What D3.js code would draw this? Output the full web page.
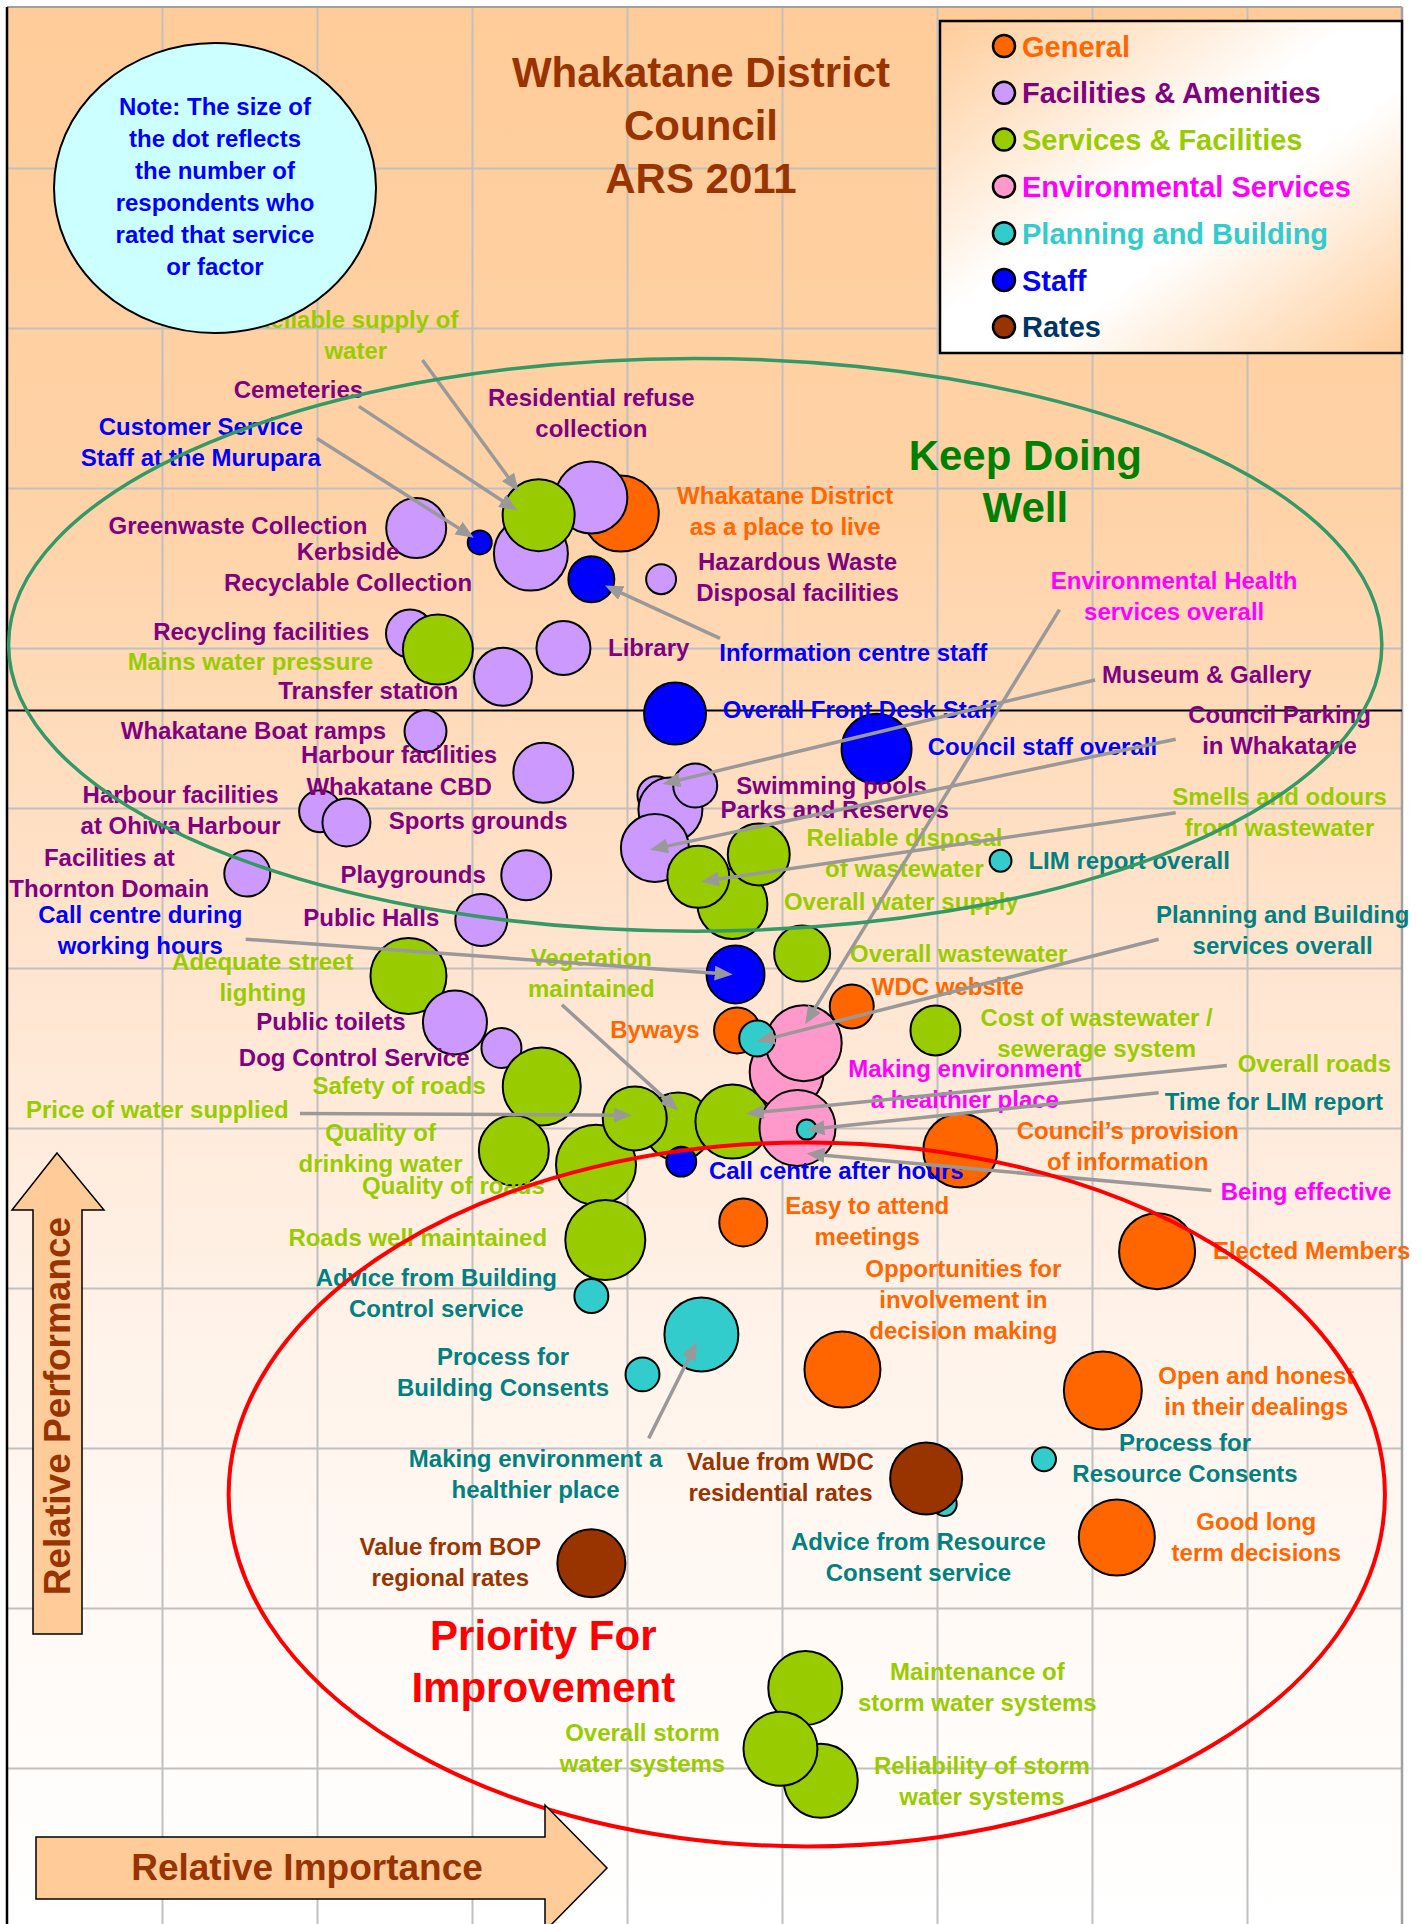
<!DOCTYPE html>
<html>
<head>
<meta charset="utf-8">
<script src="https://cdn.jsdelivr.net/npm/d3@7"></script>
<style>
  html, body { margin: 0; padding: 0; background: #fff; }
  svg { display: block; font-family: Arial, "Liberation Sans", sans-serif; font-weight: bold; }
</style>
</head>
<body>
<div id="chart"></div>
<script>
// ---- data -------------------------------------------------------------
const categories = ['General', 'Facilities & Amenities', 'Services & Facilities',
  'Environmental Services', 'Planning and Building', 'Staff', 'Rates'];

// services in drawing order (later ones sit on top)
const serviceNames = [
  'Greenwaste Collection', 'Customer Service Staff at the Murupara', 'Cemeteries',
  'Whakatane District as a place to live', 'Residential refuse collection',
  'Kerbside Recyclable Collection', 'Reliable supply of water', 'Information centre staff',
  'Hazardous Waste Disposal facilities', 'Recycling facilities', 'Mains water pressure',
  'Library', 'Transfer station', 'Overall Front Desk Staff', 'Council staff overall',
  'Whakatane Boat ramps', 'Harbour facilities', 'Harbour facilities at Ohiwa Harbour',
  'Sports grounds', 'Museum & Gallery', 'Parks and Reserves', 'Swimming pools',
  'Council Parking in Whakatane', 'Overall water supply', 'Reliable disposal of wastewater',
  'Smells and odours from wastewater', 'Facilities at Thornton Domain', 'Playgrounds',
  'Public Halls', 'Overall wastewater', 'Call centre during working hours',
  'LIM report overall', 'Adequate street lighting', 'Public toilets', 'Dog Control Service',
  'Safety of roads', 'Quality of drinking water', 'Quality of roads', 'Roads well maintained',
  'Vegetation maintained', 'Price of water supplied', 'Overall roads', 'Call centre after hours',
  'Byways', 'Making environment a healthier place', 'Environmental Health services overall',
  'Being effective', 'Planning and Building services overall', 'Time for LIM report',
  'WDC website', 'Cost of wastewater / sewerage system', 'Council’s provision of information',
  'Easy to attend meetings', 'Elected Members', 'Advice from Building Control service',
  'Making environment a healthier place (P&B)', 'Process for Building Consents',
  'Opportunities for involvement in decision making', 'Open and honest in their dealings',
  'Process for Resource Consents', 'Advice from Resource Consent service',
  'Value from WDC residential rates', 'Good long term decisions',
  'Value from BOP regional rates', 'Maintenance of storm water systems',
  'Reliability of storm water systems', 'Overall storm water systems'
];
// index into categories
const serviceGroup = [1, 5, 1, 0, 1, 1, 2, 5, 1, 1, 2, 1, 1, 5, 5, 1, 1, 1, 1, 1, 1, 1, 1, 2, 2, 2,
  1, 1, 1, 2, 5, 4, 2, 1, 1, 2, 2, 2, 2, 2, 2, 2, 5, 0, 3, 3, 3, 4, 4, 0, 2, 0, 0, 0, 4, 4, 4, 0, 0,
  4, 4, 6, 0, 6, 2, 2, 2];
const importance = [2.64, 3.05, 3.35, 3.96, 3.77, 3.38, 3.43, 3.77, 4.22, 2.60, 2.78, 3.59, 3.20,
  4.31, 5.61, 2.70, 3.46, 2.02, 2.19, 4.19, 4.28, 4.44, 4.18, 4.68, 4.85, 4.46, 1.55, 3.35, 3.06,
  5.13, 4.70, 6.41, 2.59, 2.89, 3.19, 3.45, 3.27, 3.80, 3.86, 4.33, 4.05, 4.68, 4.35, 4.71, 5.03,
  5.14, 5.10, 4.84, 5.16, 5.45, 5.99, 6.15, 4.75, 7.42, 3.77, 4.48, 4.10, 5.39, 7.07, 6.69, 6.05,
  5.93, 7.16, 3.77, 5.15, 5.25, 4.99];
const performance = [8.75, 8.66, 8.88, 8.84, 8.94, 8.59, 8.83, 8.43, 8.43, 8.09, 7.99, 8.00, 7.82,
  7.59, 7.37, 7.48, 7.22, 6.98, 6.91, 7.08, 6.99, 7.14, 6.75, 6.40, 6.71, 6.57, 6.59, 6.58, 6.30,
  6.09, 5.96, 6.67, 5.95, 5.66, 5.50, 5.26, 4.86, 4.77, 4.30, 5.01, 5.06, 5.04, 4.79, 5.61, 5.35,
  5.53, 5.00, 5.56, 4.99, 5.76, 5.61, 4.86, 4.41, 4.23, 3.95, 3.71, 3.46, 3.49, 3.36, 2.93, 2.65,
  2.81, 2.44, 2.28, 1.50, 0.92, 1.12];
const respondents = [225, 36, 100, 361, 324, 342, 324, 132, 56, 144, 306, 182, 210, 240, 306, 110,
  225, 110, 144, 90, 256, 121, 289, 306, 240, 240, 132, 156, 169, 196, 210, 30, 361, 256, 100, 380,
  306, 400, 400, 289, 256, 342, 56, 132, 342, 361, 361, 81, 25, 121, 156, 342, 144, 361, 72, 342,
  72, 361, 380, 36, 36, 324, 361, 289, 342, 342, 342];

const meanPerformance = 7.61;
const xTicks = d3.range(1, 9);
const yTicks = d3.range(1, 12);

// label layout: [text lines, category, importance, performance, anchor]
const labelSpecs = [
  ['Reliable supply of|water', 2, 2.25, 10.00], ['Cemeteries', 1, 1.88, 9.56],
  ['Customer Service|Staff at the Murupara', 5, 1.25, 9.33],
  ['Residential refuse|collection', 1, 3.77, 9.51],
  ['Whakatane District|as a place to live', 0, 5.02, 8.90],
  ['Hazardous Waste|Disposal facilities', 1, 5.10, 8.49],
  ['Greenwaste Collection', 1, 1.49, 8.71], ['Kerbside|Recyclable Collection', 1, 2.20, 8.55],
  ['Recycling facilities', 1, 1.64, 8.05], ['Mains water pressure', 2, 1.57, 7.86],
  ['Transfer station', 1, 2.33, 7.68], ['Library', 1, 4.14, 7.95],
  ['Information centre staff', 5, 5.46, 7.92],
  ['Environmental Health|services overall', 3, 7.53, 8.37],
  ['Museum & Gallery', 1, 7.74, 7.78], ['Overall Front Desk Staff', 5, 5.50, 7.56],
  ['Council Parking|in Whakatane', 1, 8.21, 7.53], ['Council staff overall', 5, 6.68, 7.33],
  ['Whakatane Boat ramps', 1, 1.59, 7.43], ['Harbour facilities', 1, 2.53, 7.28],
  ['Whakatane CBD', 1, 2.53, 7.08], ['Harbour facilities|at Ohiwa Harbour', 1, 1.12, 7.03],
  ['Sports grounds', 1, 3.04, 6.87], ['Swimming pools', 1, 5.32, 7.09],
  ['Parks and Reserves', 1, 5.34, 6.94], ['Smells and odours|from wastewater', 2, 8.21, 7.02],
  ['Reliable disposal|of wastewater', 2, 5.79, 6.76], ['LIM report overall', 4, 6.59, 6.62, 'start'],
  ['Facilities at|Thornton Domain', 1, 0.66, 6.64], ['Playgrounds', 1, 2.62, 6.53],
  ['Call centre during|working hours', 5, 0.86, 6.28], ['Public Halls', 1, 2.35, 6.26],
  ['Overall water supply', 2, 5.77, 6.36],
  ['Planning and Building|services overall', 4, 8.23, 6.28],
  ['Overall wastewater', 2, 6.14, 6.04], ['Adequate street|lighting', 2, 1.65, 5.99],
  ['Vegetation|maintained', 2, 3.77, 6.01], ['WDC website', 0, 6.07, 5.83],
  ['Public toilets', 1, 2.09, 5.61], ['Byways', 0, 4.18, 5.56],
  ['Cost of wastewater /|sewerage system', 2, 7.03, 5.64],
  ['Dog Control Service', 1, 2.24, 5.39], ['Making environment|a healthier place', 3, 6.18, 5.32],
  ['Overall roads', 2, 7.94, 5.35, 'start'], ['Safety of roads', 2, 2.53, 5.21],
  ['Price of water supplied', 2, 0.97, 5.06], ['Time for LIM report', 4, 7.47, 5.11, 'start'],
  ['Council’s provision|of information', 0, 7.23, 4.93],
  ['Quality of|drinking water', 2, 2.41, 4.92], ['Call centre after hours', 5, 5.35, 4.68],
  ['Quality of roads', 2, 2.88, 4.59], ['Being effective', 3, 7.83, 4.55, 'start'],
  ['Easy to attend|meetings', 0, 5.55, 4.46], ['Roads well maintained', 2, 2.65, 4.26],
  ['Elected Members', 0, 7.78, 4.18, 'start'],
  ['Opportunities for|involvement in|decision making', 0, 6.17, 4.07],
  ['Advice from Building|Control service', 4, 2.77, 4.01],
  ['Process for|Building Consents', 4, 3.20, 3.52],
  ['Open and honest|in their dealings', 0, 8.06, 3.40],
  ['Process for|Resource Consents', 4, 7.60, 2.98],
  ['Making environment a|healthier place', 4, 3.41, 2.88],
  ['Value from WDC|residential rates', 6, 4.99, 2.86], ['Good long|term decisions', 0, 8.06, 2.49],
  ['Advice from Resource|Consent service', 4, 5.88, 2.36],
  ['Value from BOP|regional rates', 6, 2.86, 2.33],
  ['Maintenance of|storm water systems', 2, 6.26, 1.55],
  ['Overall storm|water systems', 2, 4.10, 1.17],
  ['Reliability of storm|water systems', 2, 6.29, 0.96]
];

// leader arrows: [from importance, from performance, to importance, to performance]
const arrowLines = [
  [2.68, 9.80, 3.30, 8.98], [2.27, 9.51, 3.29, 8.86], [2.00, 9.31, 3.01, 8.69],
  [4.60, 8.06, 3.86, 8.39], [7.02, 7.80, 4.23, 7.15], [6.79, 8.24, 5.15, 5.65],
  [7.54, 7.43, 4.15, 6.74], [7.54, 6.97, 4.48, 6.54], [7.43, 6.18, 4.84, 5.54],
  [1.54, 6.18, 4.68, 5.96], [3.58, 5.77, 4.33, 5.11], [1.89, 5.09, 4.03, 5.08],
  [7.87, 5.39, 4.77, 5.09], [7.43, 5.22, 5.16, 4.99], [7.77, 4.61, 5.16, 4.84],
  [4.14, 3.06, 4.45, 3.66]
];

// quadrant ellipses: [centre importance, centre performance, half width, half height]
const keepDoingWell = [4.44, 8.02, 4.43, 1.79];
const priorityZone = [5.16, 2.71, 3.73, 2.20];

// ---- styles -----------------------------------------------------------
const groupFill = ['#FF6600', '#CC99FF', '#99CC00', '#FF99CC', '#33CCCC', '#0000FF', '#993300'];
const legendText = ['#FF6600', '#800080', '#99CC00', '#FF00FF', '#33CCCC', '#0000FF', '#003366'];
const labelColor = ['#FF6600', '#800080', '#99CC00', '#FF00FF', '#008080', '#0000FF', '#993300'];

const W = 1422, H = 1924;
const plot = { left: 7, right: 1402, top: 8, bottom: 1928 };

const x = d3.scaleLinear().domain([0, 9]).range([plot.left, plot.right]);
const y = d3.scaleLinear().domain([0, 12]).range([plot.bottom, plot.top]);
const r = d3.scaleSqrt().domain([0, 400]).range([0, 40]);

const svg = d3.select('#chart').append('svg').attr('width', W).attr('height', H);
const defs = svg.append('defs');

const bg = defs.append('linearGradient').attr('id', 'bg')
  .attr('x1', 0).attr('y1', 0).attr('x2', 0).attr('y2', 1);
[[0, '#FFCC99'], [0.25, '#FFD2A6'], [0.5, '#FFE5D0'], [0.7, '#FFF3EA'], [0.85, '#FFFAF6'], [1, '#FFFFFF']]
  .forEach(([o, c]) => bg.append('stop').attr('offset', o).attr('stop-color', c));

const lg = defs.append('linearGradient').attr('id', 'legendBg')
  .attr('x1', 0).attr('y1', 0).attr('x2', 1).attr('y2', 1);
[[0, '#FFCC99'], [0.45, '#FFFFFF'], [0.6, '#FFFFFF'], [1, '#FFCC99']]
  .forEach(([o, c]) => lg.append('stop').attr('offset', o).attr('stop-color', c));

defs.append('marker').attr('id', 'head')
  .attr('viewBox', '0 0 10 10').attr('refX', 6.5).attr('refY', 5)
  .attr('markerUnits', 'userSpaceOnUse').attr('markerWidth', 18).attr('markerHeight', 15)
  .attr('preserveAspectRatio', 'none').attr('orient', 'auto')
  .append('path').attr('d', 'M0,0L10,5L0,10Z').attr('fill', '#999999');

// background
svg.append('rect')
  .attr('x', plot.left).attr('y', 7)
  .attr('width', plot.right - plot.left).attr('height', H - 7)
  .attr('fill', 'url(#bg)');

// grid
svg.append('g')
  .attr('transform', `translate(0,${plot.bottom})`)
  .call(d3.axisBottom(x).tickValues(xTicks).tickSize(-(plot.bottom - plot.top)).tickFormat(''))
  .call(g => g.select('.domain').remove())
  .call(g => g.selectAll('line').attr('stroke', '#C0C0C0').attr('stroke-width', 2));

svg.append('g')
  .attr('transform', `translate(${plot.left},0)`)
  .call(d3.axisLeft(y).tickValues(yTicks).tickSize(-(plot.right - plot.left)).tickFormat(''))
  .call(g => g.select('.domain').remove())
  .call(g => g.selectAll('line').attr('stroke', '#C0C0C0').attr('stroke-width', 2));

// frame
svg.append('line').attr('x1', plot.left).attr('x2', plot.right).attr('y1', 7).attr('y2', 7)
  .attr('stroke', '#A0A0A0').attr('stroke-width', 2);
svg.append('line').attr('x1', plot.right).attr('x2', plot.right).attr('y1', 7).attr('y2', H)
  .attr('stroke', '#A0A0A0').attr('stroke-width', 2.5);
svg.append('line').attr('x1', plot.left).attr('x2', plot.left).attr('y1', 7).attr('y2', H)
  .attr('stroke', '#000').attr('stroke-width', 2.5);

// average performance line
svg.append('line')
  .attr('x1', plot.left).attr('x2', plot.right)
  .attr('y1', y(meanPerformance)).attr('y2', y(meanPerformance))
  .attr('stroke', '#000').attr('stroke-width', 2);

// bubbles
svg.append('g').selectAll('circle')
  .data(d3.range(serviceNames.length))
  .join('circle')
  .attr('cx', i => x(importance[i]))
  .attr('cy', i => y(performance[i]))
  .attr('r', i => r(respondents[i]))
  .attr('fill', i => groupFill[serviceGroup[i]])
  .attr('stroke', '#000')
  .attr('stroke-width', 2)
  .append('title').text(i => serviceNames[i]);

// labels
const labels = svg.append('g').attr('font-size', 24);
labelSpecs.forEach(([txt, grp, lx, ly, anchor]) => {
  const t = labels.append('text')
    .attr('x', x(lx)).attr('y', y(ly))
    .attr('text-anchor', anchor || 'middle')
    .attr('fill', labelColor[grp]);
  txt.split('|').forEach((line, k) => {
    t.append('tspan').attr('x', x(lx)).attr('dy', k === 0 ? 0 : 31).text(line);
  });
});

// leader arrows
svg.append('g').selectAll('line')
  .data(arrowLines)
  .join('line')
  .each(function (d) {
    const x1 = x(d[0]), y1 = y(d[1]), x2 = x(d[2]), y2 = y(d[3]);
    const len = Math.hypot(x2 - x1, y2 - y1);
    const k = (len - 6) / len;
    d3.select(this)
      .attr('x1', x1).attr('y1', y1)
      .attr('x2', x1 + (x2 - x1) * k).attr('y2', y1 + (y2 - y1) * k);
  })
  .attr('stroke', '#999999')
  .attr('stroke-width', 3.5)
  .attr('marker-end', 'url(#head)');

// quadrant ellipses
function zone(e, colour, w) {
  svg.append('ellipse')
    .attr('cx', x(e[0])).attr('cy', y(e[1]))
    .attr('rx', x(e[0] + e[2]) - x(e[0]))
    .attr('ry', y(e[1]) - y(e[1] + e[3]))
    .attr('fill', 'none').attr('stroke', colour).attr('stroke-width', w);
}
zone(keepDoingWell, '#339966', 3.5);
zone(priorityZone, '#FF0000', 4);

function block(lines, cx, cy, size, colour, step) {
  const t = svg.append('text').attr('x', cx).attr('y', cy)
    .attr('text-anchor', 'middle').attr('font-size', size).attr('fill', colour);
  lines.forEach((line, k) => t.append('tspan').attr('x', cx).attr('dy', k ? step : 0).text(line));
}

block(['Keep Doing', 'Well'], x(6.57), y(9.11), 42, '#008000', 52);
block(['Priority For', 'Improvement'], x(3.46), y(1.74), 42, '#FF0000', 52);

// note bubble
svg.append('ellipse').attr('cx', 215).attr('cy', 188).attr('rx', 161).attr('ry', 145)
  .attr('fill', '#CCFFFF').attr('stroke', '#000').attr('stroke-width', 2);
block(['Note: The size of', 'the dot reflects', 'the number of', 'respondents who',
  'rated that service', 'or factor'], 215, 115, 24, '#0000FF', 32);

// title
block(['Whakatane District', 'Council', 'ARS 2011'], 701, 87, 42, '#993300', 53);

// legend
svg.append('rect').attr('x', 940).attr('y', 21).attr('width', 462).attr('height', 332)
  .attr('fill', 'url(#legendBg)').attr('stroke', '#000').attr('stroke-width', 2.5);
const leg = svg.append('g').selectAll('g').data(categories).join('g')
  .attr('transform', (d, i) => `translate(1004,${46 + i * 46.8})`);
leg.append('circle').attr('r', 11)
  .attr('fill', (d, i) => groupFill[i]).attr('stroke', '#000').attr('stroke-width', 2.5);
leg.append('text').attr('x', 18).attr('y', 10.5).attr('font-size', 29)
  .attr('fill', (d, i) => legendText[i]).text(d => d);

// axis arrows
svg.append('path')
  .attr('d', 'M57,1153L104,1210L82,1210L82,1634L33,1634L33,1210L12,1210Z')
  .attr('fill', '#FFCC99').attr('stroke', '#000').attr('stroke-width', 1.5);
svg.append('text').attr('transform', 'translate(70,1406) rotate(-90)')
  .attr('text-anchor', 'middle').attr('font-size', 37).attr('fill', '#993300')
  .text('Relative Performance');

svg.append('path')
  .attr('d', 'M36,1837L545,1837L545,1805L607,1868L545,1931L545,1899L36,1899Z')
  .attr('fill', '#FFCC99').attr('stroke', '#000').attr('stroke-width', 1.5);
svg.append('text').attr('x', 307).attr('y', 1880)
  .attr('text-anchor', 'middle').attr('font-size', 37).attr('fill', '#993300')
  .text('Relative Importance');
</script>
</body>
</html>
